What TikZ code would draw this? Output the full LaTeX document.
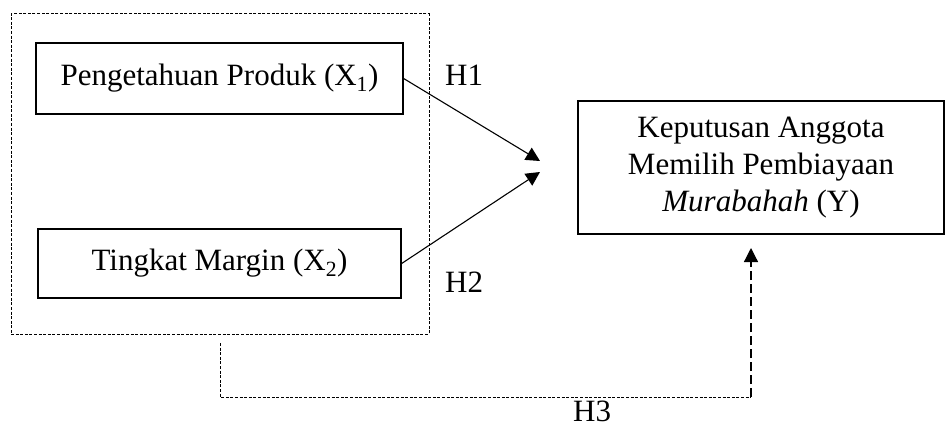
\documentclass[tikz,border=0pt]{standalone}
\usepackage{fontspec}
\setmainfont{Liberation Serif}
\usetikzlibrary{arrows.meta}
\begin{document}
\begin{tikzpicture}[x=1pt,y=-1pt,
  txt/.style={font=\fontsize{31}{37}\selectfont},
  box/.style={draw, line width=1.3pt, inner sep=0pt, txt, align=center},
  groupbox/.style={draw, line width=1pt, dash pattern=on 3pt off 1.6pt, inner sep=0pt},
  finedash/.style={line width=1pt, dash pattern=on 3pt off 1.6pt},
  bigdash/.style={line width=1.2pt, dash pattern=on 9pt off 4pt},
  arr/.style={line width=1.1pt, -{Triangle[length=14pt,width=14pt]}},
  lbl/.style={txt, inner sep=0pt, anchor=base west}]
\useasboundingbox (0,0) rectangle (946,428);
\node[groupbox, minimum width=418pt, minimum height=320pt] (grp) at (220,174) {};
\node[box, minimum width=367pt, minimum height=71pt] (x1) at (219.5,78.5) {Pengetahuan Produk (X\textsubscript{1})};
\node[box, minimum width=363pt, minimum height=69pt] (x2) at (219.5,263.5) {Tingkat Margin (X\textsubscript{2})};
\node[box, minimum width=366pt, minimum height=133pt] (y) at (761,167.5) {Keputusan Anggota\\Memilih Pembiayaan\\\textit{Murabahah} (Y)};
\coordinate (t1) at (540,161);
\coordinate (t2) at (540,172);
\draw[arr] (x1.east) -- (t1);
\draw[arr] (x2.east) -- (t2);
\coordinate (s3) at (220,343);
\coordinate (c3) at (751,397);
\coordinate (e3) at (751,248);
\draw[finedash] (s3) |- (c3);
\draw[bigdash, -{Triangle[length=14pt,width=14pt]}] (c3) -- (e3);
\node[lbl] (h1) at (445,85) {H1};
\node[lbl] (h2) at (445,292) {H2};
\node[lbl] (h3) at (573,421) {H3};
\end{tikzpicture}
\end{document}
